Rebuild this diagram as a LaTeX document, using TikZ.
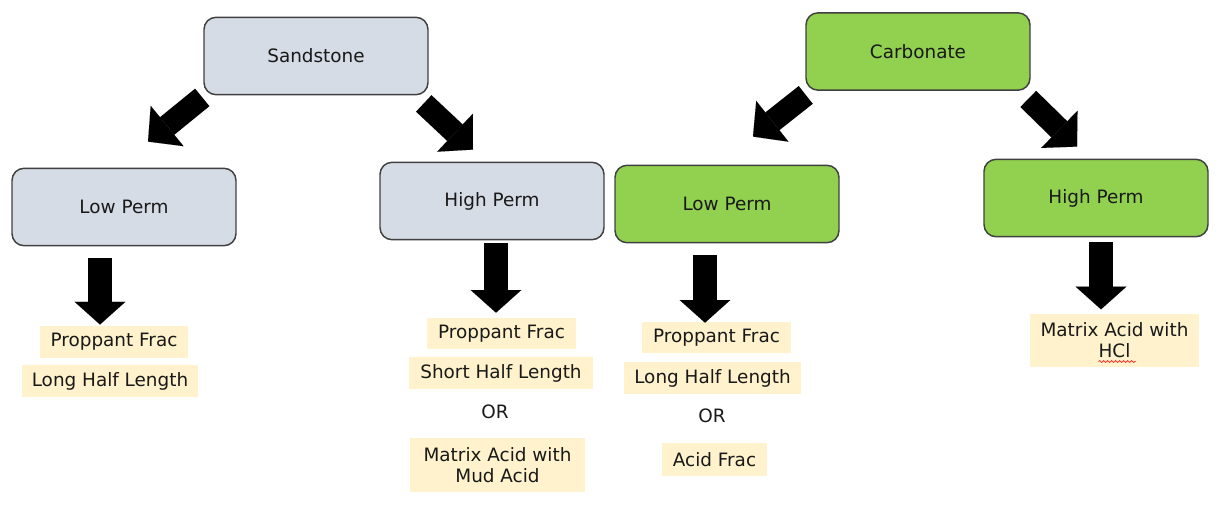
\documentclass[tikz,border=0pt]{standalone}
\usepackage{fontspec}
\setmainfont{DejaVu Sans}
\usetikzlibrary{arrows.meta,calc,decorations.pathmorphing}

\definecolor{rockgray}{RGB}{214,220,229}
\definecolor{rockgreen}{RGB}{146,208,80}
\definecolor{notefill}{RGB}{255,242,204}
\definecolor{edgegray}{RGB}{64,64,64}
\definecolor{inkgray}{RGB}{25,25,25}

\tikzset{every picture/.style={line width=0.75pt}}
\tikzset{
  rockbox/.style={draw=edgegray, line width=1.1pt, rounded corners=9pt, minimum width=168pt, minimum height=58pt, inner sep=0pt, text=inkgray},
  notebox/.style={fill=notefill, inner sep=0pt, text=inkgray, align=center},
  bigarrow/.style={line width=18.5pt, -{Triangle[length=17pt, width=38pt, line width=0.01pt]}},
  slantarrow/.style={line width=17pt, -{Triangle[length=18.5pt, width=39pt, line width=0.01pt]}}
}

\begin{document}
\begin{tikzpicture}[x=0.75pt,y=0.75pt,yscale=-1,xscale=1, font=\fontsize{13.8}{15.8}\selectfont]
	\path (0,0) rectangle (1225,508); %set diagram to 1225 x 508

	%Rounded Rect: rock types
	\node [rockbox, fill=rockgray] (sand) at (316,56) {Sandstone};
	\node [rockbox, fill=rockgreen] (carb) at (918,51.5) {Carbonate};
	%Rounded Rect: permeability
	\node [rockbox, fill=rockgray] (sLow) at (124,207) {Low Perm};
	\node [rockbox, fill=rockgray] (sHigh) at (492,201) {High Perm};
	\node [rockbox, fill=rockgreen] (cLow) at (727,204) {Low Perm};
	\node [rockbox, fill=rockgreen] (cHigh) at (1096,198) {High Perm};

	% Text Node
	\node [notebox, minimum width=111pt, minimum height=24pt] (sPF) at (114,342) {Proppant Frac};
	% Text Node
	\node [notebox, minimum width=132pt, minimum height=24pt] (sLHL) at (110,381) {Long Half Length};
	% Text Node
	\node [notebox, minimum width=112pt, minimum height=23pt] (hPF) at (501.5,333.5) {Proppant Frac};
	% Text Node
	\node [notebox, minimum width=138pt, minimum height=24pt] (hSHL) at (501,373) {Short Half Length};
	% Text Node
	\node [inner sep=0pt, text=inkgray] (hOR) at (495,412) {OR};
	% Text Node
	\node [notebox, minimum width=131pt, minimum height=40pt] (hMA) at (497.5,465) {Matrix Acid with\\Mud Acid};
	% Text Node
	\node [notebox, minimum width=112pt, minimum height=23pt] (cPF) at (716.5,337.5) {Proppant Frac};
	% Text Node
	\node [notebox, minimum width=133pt, minimum height=24pt] (cLHL) at (712.5,378) {Long Half Length};
	% Text Node
	\node [inner sep=0pt, text=inkgray] (cOR) at (712,416) {OR};
	% Text Node
	\node [notebox, minimum width=79pt, minimum height=25pt] (cAF) at (714.5,459.5) {Acid Frac};
	% Text Node
	\node [notebox, minimum width=127pt, minimum height=40pt] (hcMA) at (1114.5,340.5) {Matrix Acid with\\HCl};
	\draw [red, line width=0.5pt, decorate, decoration={snake, segment length=3pt, amplitude=0.7pt}] ($(hcMA)+(-16,21)$) -- ($(hcMA)+(21,21)$);

	% Connection
	\draw [slantarrow] ($(sand.south west)+(-1,2)$) -- ($(sLow.north)+(24,-26)$);
	% Connection
	\draw [slantarrow] ($(sand.south east)+(-5,8)$) -- ($(sHigh.north)+(-19,-12)$);
	% Connection
	\draw [slantarrow] ($(carb.south west)+(0.5,4)$) -- ($(cLow.north)+(26,-28)$);
	% Connection
	\draw [slantarrow] ($(carb.south east)+(-2.5,8)$) -- ($(cHigh.north)+(-19,-12)$);
	% Connection
	\draw [bigarrow] ($(sLow.south)+(-24,12)$) -- ($(sPF.north)+(-14,-1)$);
	% Connection
	\draw [bigarrow] ($(sHigh.south)+(4,3)$) -- ($(hPF.north)+(-5.5,-5)$);
	% Connection
	\draw [bigarrow] ($(cLow.south)+(-22,12)$) -- ($(cPF.north)+(-11.5,1)$);
	% Connection
	\draw [bigarrow] ($(cHigh.south)+(5,5)$) -- ($(hcMA.north)+(-13.5,-4)$);

\end{tikzpicture}
\end{document}
